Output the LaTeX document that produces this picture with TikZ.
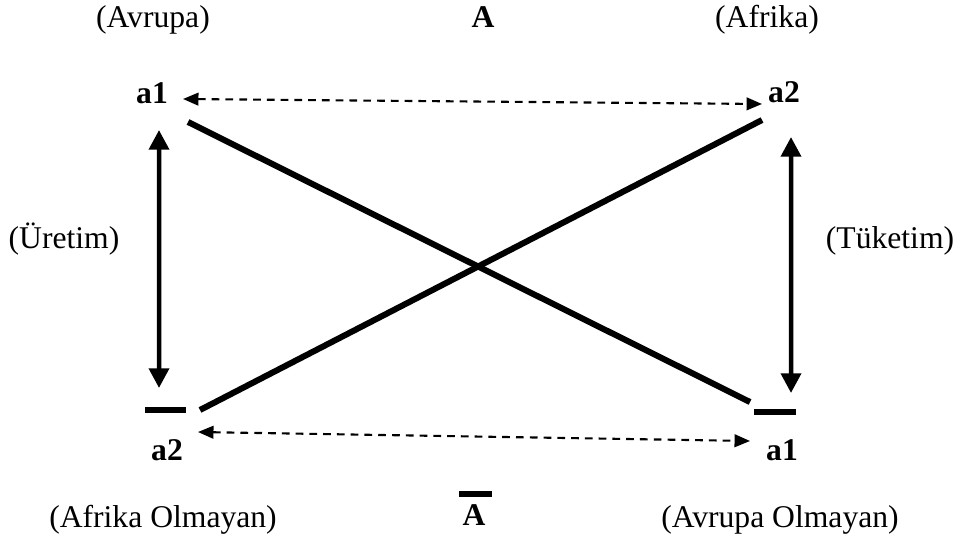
\documentclass[tikz,border=0pt]{standalone}
\usepackage{fontspec}
\setmainfont{Liberation Serif}
\usepackage{tikz}
\usetikzlibrary{positioning,arrows.meta,calc}

\begin{document}
\begin{tikzpicture}[
  lab/.style={inner sep=0pt, anchor=base, font=\fontsize{22.5}{27}\selectfont},
  pole/.style={inner sep=0pt, anchor=base, font=\fontsize{22.5}{27}\selectfont\bfseries},
  cross/.style={line width=4.3pt, line cap=butt},
  vert/.style={{Triangle[length=14pt,width=14pt]}-{Triangle[length=14pt,width=14pt]}, line width=3.2pt},
  contra/.style={{Triangle[length=11pt,width=9pt]}-{Triangle[length=11pt,width=9pt]}, line width=1.5pt, dash pattern=on 5.5pt off 4.3pt},
  bar/.style={line width=4pt}
]
\useasboundingbox (0,0) rectangle (24,-13.425);

% Top row
\node[lab] (avrupa) at (3.825,-0.7) {(Avrupa)};
\node[pole] (abig) at (12.075,-0.7) {A};
\node[lab] (afrika) at (19.175,-0.7) {(Afrika)};

% Corners
\node[pole] (a1t) at (3.8,-2.575) {a1};
\node[pole] (a2t) at (19.6,-2.55) {a2};
\node[pole] (a2b) at (4.175,-11.5) {a2};
\node[pole] (a1b) at (19.55,-11.5) {a1};

% Sides
\node[lab] (uretim) at (1.6,-6.2) {(Üretim)};
\node[lab] (tuketim) at (22.25,-6.2) {(Tüketim)};

% Bottom row
\node[lab] (afrikaol) at (4.075,-13.175) {(Afrika Olmayan)};
\node[pole] (abar) at (11.85,-13.125) {A};
\node[lab] (avrupaol) at (19.5,-13.175) {(Avrupa Olmayan)};

% Bars over the negated poles
\draw[bar] ([shift={(-0.55,1.25)}]a2b.base) -- ([shift={(0.475,1.25)}]a2b.base);
\draw[bar] ([shift={(-0.7,1.2)}]a1b.base) -- ([shift={(0.35,1.2)}]a1b.base);
\draw[bar] ([shift={(-0.375,0.775)}]abar.base) -- ([shift={(0.45,0.775)}]abar.base);

% Contraries
\draw[contra] ([shift={(0.775,0.1)}]a1t.base) -- ([shift={(-0.55,-0.05)}]a2t.base);
\draw[contra] ([shift={(0.775,0.7)}]a2b.base) -- ([shift={(-0.8,0.475)}]a1b.base);

% Contradictories
\draw[cross] ([shift={(0.9,-0.475)}]a1t.base) -- ([shift={(-0.8,1.45)}]a1b.base);
\draw[cross] ([shift={(0.825,1.25)}]a2b.base) -- ([shift={(-0.55,-0.45)}]a2t.base);

% Implications
\draw[vert] ([shift={(0.175,-0.675)}]a1t.base) -- ([shift={(-0.2,1.8)}]a2b.base);
\draw[vert] ([shift={(0.175,-0.875)}]a2t.base) -- ([shift={(0.225,1.675)}]a1b.base);

\end{tikzpicture}
\end{document}
